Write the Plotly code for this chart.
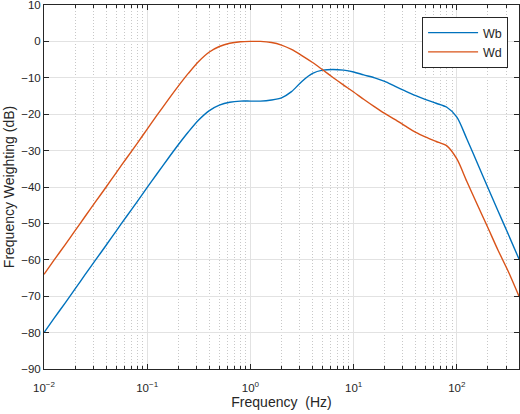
import plotly.graph_objects as go

# frequency weightings (one point per 1/10 decade)
freq = [0.01, 0.0125, 0.016, 0.02, 0.025, 0.0315, 0.04, 0.05, 0.063, 0.08,
        0.1, 0.125, 0.16, 0.2, 0.25, 0.315, 0.4, 0.5, 0.63, 0.8,
        1.0, 1.25, 1.6, 2.0, 2.5, 3.15, 4.0, 5.0, 6.3, 8.0,
        10, 12.5, 16, 20, 25, 31.5, 40, 50, 63, 80,
        100, 125, 160, 200, 250, 315, 400]

wb_db = [-80.0, -76.1, -71.9, -68.0, -64.1, -60.1, -56.0, -52.1, -48.1, -44.0,
         -40.1, -36.3, -32.1, -28.4, -24.9, -21.6, -19.0, -17.5, -16.7, -16.4,
         -16.4, -16.4, -16.1, -15.5, -13.8, -11.0, -8.8, -7.9, -7.7, -7.9,
         -8.4, -9.2, -10.0, -11.0, -12.3, -13.6, -14.9, -16.0, -17.0, -18.1,
         -20.8, -26.8, -33.8, -40.2, -46.5, -53.0, -59.8]

wd_db = [-64.0, -60.1, -55.9, -52.0, -48.1, -44.1, -40.0, -36.1, -32.1, -28.0,
         -24.1, -20.2, -16.0, -12.3, -8.8, -5.5, -2.9, -1.4, -0.5, -0.1,
         0.0, 0.0, -0.3, -1.0, -2.2, -3.9, -5.8, -7.8, -9.9, -12.0,
         -13.9, -15.9, -18.0, -19.8, -21.4, -23.2, -25.0, -26.3, -27.5, -28.7,
         -32.3, -38.5, -45.2, -51.2, -57.3, -63.2, -70.0]

x_tickvals = [0.01, 0.1, 1, 10, 100]
x_ticktext = ['10<sup>\u22122</sup>', '10<sup>\u22121</sup>', '10<sup>0</sup>',
              '10<sup>1</sup>', '10<sup>2</sup>']
y_tickvals = [-90, -80, -70, -60, -50, -40, -30, -20, -10, 0, 10]

axis_col = '#262626'
font = 'Liberation Sans, Arial, sans-serif'

fig = go.Figure()
fig.add_trace(go.Scatter(x=freq, y=wb_db, name='Wb', mode='lines',
                         line=dict(color='#0072BD', width=1.4, shape='spline', smoothing=0.8)))
fig.add_trace(go.Scatter(x=freq, y=wd_db, name='Wd', mode='lines',
                         line=dict(color='#D95319', width=1.4, shape='spline', smoothing=0.8)))

fig.update_xaxes(
    type='log', range=[-2, 2.60206], automargin=False,
    tickvals=x_tickvals, ticktext=x_ticktext, ticklabeloverflow='allow',
    ticklabelstandoff=8,
    ticks='inside', ticklen=5, tickcolor=axis_col,
    showline=True, linecolor=axis_col, linewidth=1, mirror='ticks',
    showgrid=True, gridcolor='#e2e2e2', gridwidth=1,
    minor=dict(dtick='D1', ticks='inside', ticklen=3, tickcolor=axis_col,
               showgrid=True, gridcolor='#c8c8c8', griddash='1px,2px', gridwidth=1),
    zeroline=False,
    title=dict(text='Frequency\u00a0\u00a0(Hz)', font=dict(size=14, color=axis_col), standoff=2),
    tickfont=dict(size=11.5, color=axis_col),
)
fig.update_yaxes(
    range=[-90, 10], tickvals=y_tickvals, automargin=False, ticklabeloverflow='allow',
    ticks='inside', ticklen=5, tickcolor=axis_col,
    showline=True, linecolor=axis_col, linewidth=1, mirror='ticks',
    showgrid=True, gridcolor='#e2e2e2', gridwidth=1,
    zeroline=False,
    title=dict(text='Frequency Weighting (dB)', font=dict(size=14, color=axis_col), standoff=3),
    tickfont=dict(size=11.5, color=axis_col),
)

fig.update_layout(
    width=520, height=414,
    margin=dict(l=44, r=1, t=5, b=45),
    paper_bgcolor='white', plot_bgcolor='white',
    font=dict(family=font, color=axis_col),
    legend=dict(x=0.977, y=0.967, xanchor='right', yanchor='top',
                bgcolor='white', bordercolor=axis_col, borderwidth=1,
                font=dict(size=12.5, color=axis_col), itemwidth=50,
                tracegroupgap=0),
    showlegend=True,
)

# the page's default body margin would push the 520x414 figure out of the window
fig.write_html('out.html', config={'displayModeBar': False},
               post_script="document.body.style.margin='0px';")
